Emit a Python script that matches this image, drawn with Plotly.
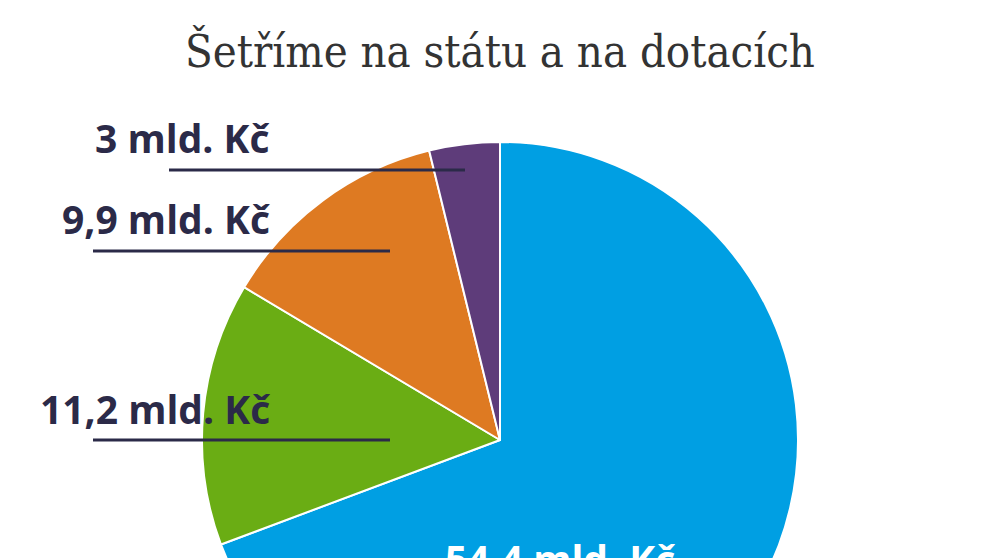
import plotly.graph_objects as go

# data
categories = ["A", "B", "C", "D"]
values = [54.4, 11.2, 9.9, 3.0]
value_labels = ["54,4 mld. Kč", "11,2 mld. Kč", "9,9 mld. Kč", "3 mld. Kč"]
colors = ["#009fe3", "#6aad14", "#de7a22", "#5e3c7a"]

title_text = "Šetříme na státu a na dotacích"

W, H = 991, 760
INK = "#2b2a48"
OFF = 8  # page body margin


def px(x, y):
    """pixel (from top-left of window) -> paper coords"""
    return (x - OFF) / W, 1 - (y - OFF) / H


# pie geometry in pixels
cx, cy, r = 500, 440, 298
x0, y0 = px(cx - r, cy + r)
x1, y1 = px(cx + r, cy - r)

fig = go.Figure(go.Pie(
    labels=categories,
    values=values,
    sort=False,
    direction="clockwise",
    rotation=0,
    marker=dict(colors=colors, line=dict(color="white", width=2)),
    textinfo="none",
    hoverinfo="skip",
    showlegend=False,
    domain=dict(x=[x0, x1], y=[max(y0, 0), y1]),
))

label_font = dict(family="Open Sans", size=39, color=INK, weight="bold")

# outside labels: (text index, label right x, label y, line x0, line x1, line y)
outside = [
    (3, 272, 138, 169, 465, 170),
    (2, 272, 218, 93, 390, 251),
    (1, 272, 408, 93, 390, 440),
]
for i, tx, ty, lx0, lx1, ly in outside:
    ax, ay = px(tx, ty)
    fig.add_annotation(x=ax, y=ay, xref="paper", yref="paper", text=value_labels[i],
                       showarrow=False, xanchor="right", yanchor="middle", font=label_font)
    a, b = px(lx0, ly)
    c, _ = px(lx1, ly)
    fig.add_shape(type="line", xref="paper", yref="paper", x0=a, x1=c, y0=b, y1=b,
                  line=dict(color=INK, width=3))

ax, ay = px(560, 558)
fig.add_annotation(x=ax, y=ay, xref="paper", yref="paper", text=value_labels[0],
                   showarrow=False, xanchor="center", yanchor="middle",
                   font=dict(family="Open Sans", size=39, color="white", weight="bold"))

tx, ty = px(500, 52)
fig.add_annotation(x=tx, y=ty, xref="paper", yref="paper", text=title_text,
                   showarrow=False, xanchor="center", yanchor="middle",
                   font=dict(family="DejaVu Serif Condensed", size=45, color="#333333"))

fig.update_layout(
    width=W,
    height=H,
    margin=dict(l=0, r=0, t=0, b=0),
    paper_bgcolor="white",
    plot_bgcolor="white",
)

fig.write_html("out.html")
